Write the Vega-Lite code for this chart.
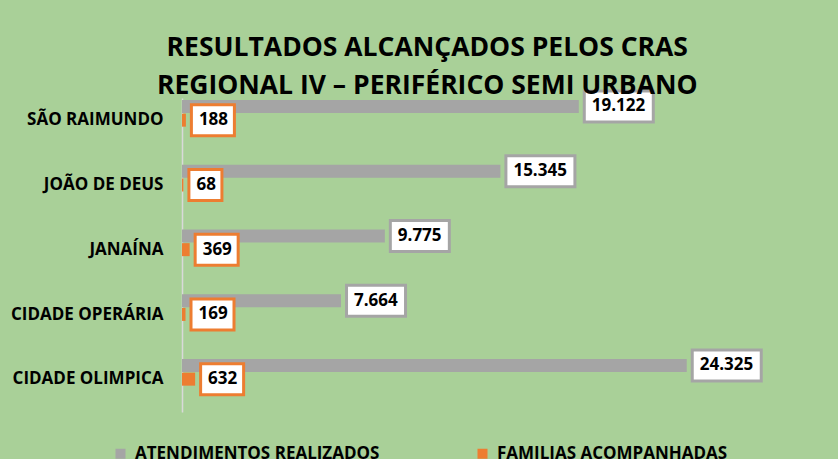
{
  "$schema": "https://vega.github.io/schema/vega-lite/v6.json",
  "autosize": {"type": "none"},
  "width": 622.5,
  "height": 314,
  "padding": {"left": 182, "top": 98, "right": 33.5, "bottom": 47},
  "background": "#a9d098",
  "config": {
    "view": {"stroke": null},
    "font": "Open Sans",
    "locale": {"number": {"decimal": ",", "thousands": ".", "grouping": [3], "currency": ["R$", ""]}}
  },
  "title": {
    "text": ["RESULTADOS ALCANÇADOS PELOS CRAS", "REGIONAL IV – PERIFÉRICO SEMI URBANO"],
    "font": "Open Sans",
    "fontSize": 26.5,
    "fontWeight": "bold",
    "color": "#000000",
    "anchor": "middle",
    "dx": -66,
    "lineHeight": 38,
    "offset": -10
  },
  "data": {
    "values": [
      {"cras": "SÃO RAIMUNDO", "serie": "ATENDIMENTOS REALIZADOS", "valor": 19122},
      {"cras": "SÃO RAIMUNDO", "serie": "FAMILIAS ACOMPANHADAS", "valor": 188},
      {"cras": "JOÃO DE DEUS", "serie": "ATENDIMENTOS REALIZADOS", "valor": 15345},
      {"cras": "JOÃO DE DEUS", "serie": "FAMILIAS ACOMPANHADAS", "valor": 68},
      {"cras": "JANAÍNA", "serie": "ATENDIMENTOS REALIZADOS", "valor": 9775},
      {"cras": "JANAÍNA", "serie": "FAMILIAS ACOMPANHADAS", "valor": 369},
      {"cras": "CIDADE OPERÁRIA", "serie": "ATENDIMENTOS REALIZADOS", "valor": 7664},
      {"cras": "CIDADE OPERÁRIA", "serie": "FAMILIAS ACOMPANHADAS", "valor": 169},
      {"cras": "CIDADE OLIMPICA", "serie": "ATENDIMENTOS REALIZADOS", "valor": 24325},
      {"cras": "CIDADE OLIMPICA", "serie": "FAMILIAS ACOMPANHADAS", "valor": 632}
    ]
  },
  "encoding": {
    "y": {
      "field": "cras",
      "type": "nominal",
      "sort": null,
      "scale": {"paddingInner": 0.588, "paddingOuter": 0.2187, "align": 0.07},
      "axis": {
        "title": null,
        "domain": true,
        "domainColor": "#d9d9d9",
        "domainWidth": 1.5,
        "ticks": false,
        "grid": false,
        "labelFont": "Open Sans",
        "labelFontSize": 17,
        "labelFontWeight": "bold",
        "labelColor": "#000000",
        "labelPadding": 19,
        "labelOffset": 7,
        "labelLimit": 300
      }
    },
    "yOffset": {
      "field": "serie",
      "type": "nominal",
      "sort": ["ATENDIMENTOS REALIZADOS", "FAMILIAS ACOMPANHADAS"],
      "scale": {"paddingInner": 0.05}
    },
    "x": {"field": "valor", "type": "quantitative", "scale": {"domain": [0, 30000]}, "axis": null}
  },
  "layer": [
    {
      "mark": {"type": "bar"},
      "encoding": {
        "color": {
          "field": "serie",
          "type": "nominal",
          "scale": {"domain": ["ATENDIMENTOS REALIZADOS", "FAMILIAS ACOMPANHADAS"], "range": ["#a5a5a5", "#ed7d31"]},
          "legend": {
            "orient": "none",
            "legendX": -70,
            "legendY": 347,
            "direction": "horizontal",
            "title": null,
            "symbolType": "square",
            "symbolSize": 100,
            "symbolStrokeWidth": 0,
            "labelFont": "Open Sans",
            "labelFontSize": 17,
            "labelFontWeight": "bold",
            "labelColor": "#000000",
            "labelOffset": 6,
            "labelLimit": 400,
            "columnPadding": 94,
            "padding": 0
          }
        }
      }
    },
    {
      "transform": [{"filter": "datum.serie == 'ATENDIMENTOS REALIZADOS' && datum.valor >= 10000"}],
      "mark": {"type": "bar", "height": 31, "xOffset": 5.5, "x2Offset": 74.5, "fill": "#ffffff", "stroke": "#a5a5a5", "strokeWidth": 3},
      "encoding": {"x2": {"field": "valor"}}
    },
    {
      "transform": [{"filter": "datum.serie == 'ATENDIMENTOS REALIZADOS' && datum.valor < 10000"}],
      "mark": {"type": "bar", "height": 31, "xOffset": 5.5, "x2Offset": 64.5, "fill": "#ffffff", "stroke": "#a5a5a5", "strokeWidth": 3},
      "encoding": {"x2": {"field": "valor"}}
    },
    {
      "transform": [{"filter": "datum.serie == 'FAMILIAS ACOMPANHADAS' && datum.valor >= 100"}],
      "mark": {"type": "bar", "height": 31, "xOffset": 5.5, "x2Offset": 48.5, "fill": "#ffffff", "stroke": "#ed7d31", "strokeWidth": 3},
      "encoding": {"x2": {"field": "valor"}}
    },
    {
      "transform": [{"filter": "datum.serie == 'FAMILIAS ACOMPANHADAS' && datum.valor < 100"}],
      "mark": {"type": "bar", "height": 31, "xOffset": 5.5, "x2Offset": 38.5, "fill": "#ffffff", "stroke": "#ed7d31", "strokeWidth": 3},
      "encoding": {"x2": {"field": "valor"}}
    },
    {
      "mark": {"type": "text", "align": "left", "baseline": "middle", "dx": 13, "font": "Open Sans", "fontSize": 17, "fontWeight": "bold", "color": "#000000"},
      "encoding": {"text": {"field": "valor", "type": "quantitative", "format": ",d"}}
    }
  ]
}
